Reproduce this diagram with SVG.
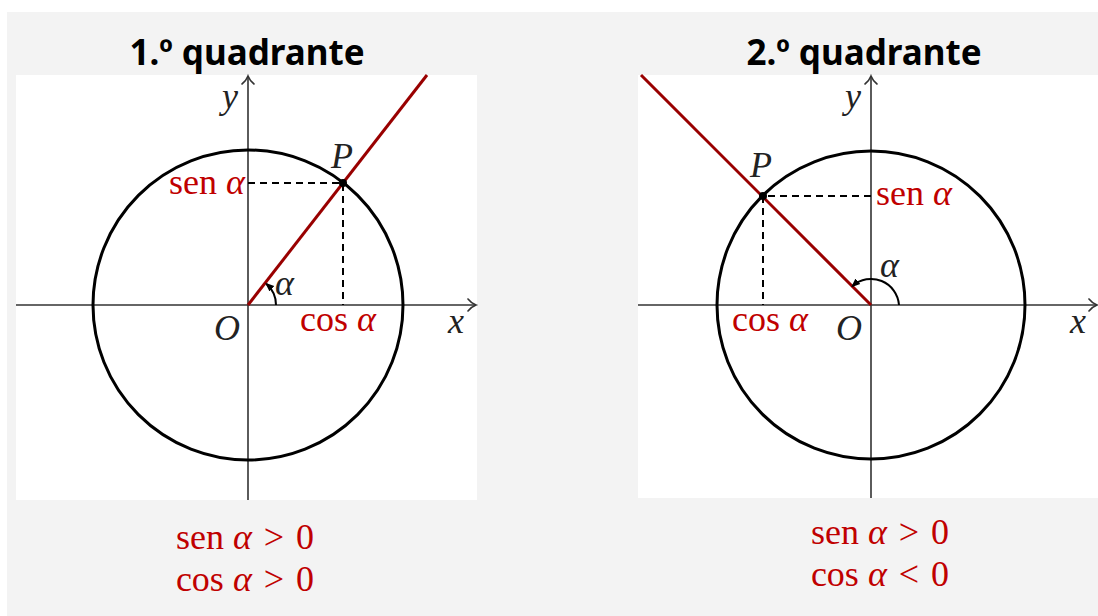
<svg xmlns="http://www.w3.org/2000/svg" width="1098" height="616" viewBox="0 0 1098 616">
<style>
.title{font-family:"Noto Sans","Open Sans",sans-serif;font-weight:bold;font-size:35px;fill:#000;text-anchor:middle}
.red{font-family:"Liberation Serif",serif;font-size:36px;fill:#c00000}
.math{font-family:"Liberation Serif",serif;font-style:italic;font-size:36px;fill:#222}
.it{font-style:italic}
.axis{stroke:#333;stroke-width:1.6;fill:none}
.head{stroke:#333;stroke-width:1.6;fill:none;stroke-linecap:round}
.circ{stroke:#000;stroke-width:3;fill:none}
.ray{stroke:#900;stroke-width:3;fill:none}
.dash{stroke:#000;stroke-width:2;stroke-dasharray:7,5;fill:none}
.arc{stroke:#000;stroke-width:2;fill:none}
</style>
<defs>
<marker id="ah" viewBox="0 0 10 10" refX="8" refY="5" markerWidth="9" markerHeight="9" markerUnits="userSpaceOnUse" orient="auto">
<path d="M0,1 L10,5 L0,9 z" fill="#000"/>
</marker>
</defs>
<rect x="0" y="0" width="1098" height="616" fill="#fff"/>
<rect x="7" y="12" width="1091" height="604" fill="#f3f3f3"/>
<g id="panel1">
<rect x="16" y="75" width="461" height="425" fill="#fff"/>
<text class="title" x="247" y="65">1.º quadrante</text>
<g id="axes1">
<line class="axis" x1="16" y1="305" x2="475" y2="305"/>
<path class="head" d="M468,299 Q471,303 476,305 Q471,307 468,311"/>
<line class="axis" x1="248" y1="500" x2="248" y2="77"/>
<path class="head" d="M242,84 Q246,81 248,76 Q250,81 254,84"/>
</g>
<circle class="circ" cx="248" cy="305" r="155"/>
<path class="dash" d="M248,183 H343 V305"/>
<line class="ray" x1="248" y1="305" x2="427" y2="75"/>
<circle cx="343" cy="183" r="4" fill="#000"/>
<path class="arc" d="M276,305 A28,28 0 0 0 266.5,284" marker-end="url(#ah)"/>
<text class="red" x="245" y="194" text-anchor="end">sen <tspan class="it">α</tspan></text>
<text class="red" x="300" y="331">cos <tspan class="it">α</tspan></text>
<text class="math" x="331" y="168">P</text>
<text class="math" x="214" y="340">O</text>
<text class="math" x="448" y="333">x</text>
<text class="math" x="222" y="108">y</text>
<text class="math" x="275" y="295">α</text>
<text class="red" x="245" y="549" text-anchor="middle">sen <tspan class="it">α</tspan><tspan dx="12">&gt;</tspan><tspan dx="12">0</tspan></text>
<text class="red" x="245" y="591" text-anchor="middle">cos <tspan class="it">α</tspan><tspan dx="12">&gt;</tspan><tspan dx="12">0</tspan></text>
</g>
<g id="panel2">
<rect x="638" y="75" width="460" height="423" fill="#fff"/>
<text class="title" x="864" y="65">2.º quadrante</text>
<g id="axes2">
<line class="axis" x1="638" y1="305" x2="1096" y2="305"/>
<path class="head" d="M1089,299 Q1092,303 1097,305 Q1092,307 1089,311"/>
<line class="axis" x1="871" y1="498" x2="871" y2="77"/>
<path class="head" d="M865,84 Q869,81 871,76 Q873,81 877,84"/>
</g>
<circle class="circ" cx="871" cy="305" r="154"/>
<path class="dash" d="M871,196 H763 V305"/>
<line class="ray" x1="871" y1="305" x2="641" y2="75"/>
<circle cx="763" cy="196" r="4" fill="#000"/>
<path class="arc" d="M899,305 A28,28 0 0 0 852.5,286" marker-end="url(#ah)"/>
<text class="red" x="876" y="205">sen <tspan class="it">α</tspan></text>
<text class="red" x="732" y="331">cos <tspan class="it">α</tspan></text>
<text class="math" x="750" y="177">P</text>
<text class="math" x="836" y="340">O</text>
<text class="math" x="1070" y="333">x</text>
<text class="math" x="845" y="108">y</text>
<text class="math" x="880" y="277">α</text>
<text class="red" x="880" y="544" text-anchor="middle">sen <tspan class="it">α</tspan><tspan dx="12">&gt;</tspan><tspan dx="12">0</tspan></text>
<text class="red" x="880" y="586" text-anchor="middle">cos <tspan class="it">α</tspan><tspan dx="12">&lt;</tspan><tspan dx="12">0</tspan></text>
</g>
</svg>
